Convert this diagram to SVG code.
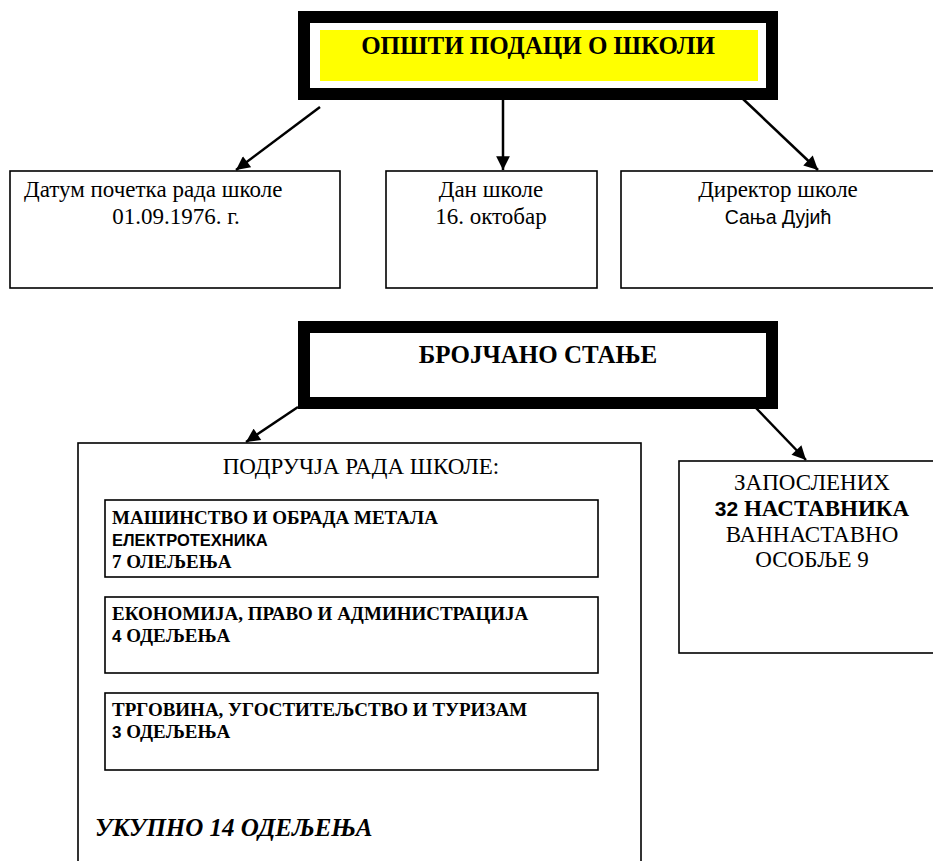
<svg xmlns="http://www.w3.org/2000/svg" width="933" height="861" viewBox="0 0 933 861">
<style>
.box{fill:#fff;stroke:#000;stroke-width:1.6}
.frame{fill:#fff;stroke:#000;stroke-width:12}
.serif{font-family:"Liberation Serif","Times New Roman",serif;fill:#000}
.sans{font-family:"Liberation Sans",Arial,sans-serif;fill:#000}
.b{font-weight:bold}
.conn{stroke:#000;stroke-width:2.5;fill:none;marker-end:url(#ah)}
</style>
<defs>
<marker id="ah" viewBox="0 0 10 10" refX="10" refY="5" markerWidth="6" markerHeight="5.5" orient="auto" markerUnits="strokeWidth">
<path d="M0,0 L10,5 L0,10 Z" fill="#000"/>
</marker>
</defs>
<rect width="933" height="861" fill="#fff"/>

<g id="title1">
<rect class="frame" x="304" y="17" width="468" height="77"/>
<rect x="320" y="30" width="438" height="51" fill="#ffff00"/>
<text class="serif b" x="538" y="54" font-size="25" text-anchor="middle">ОПШТИ ПОДАЦИ О ШКОЛИ</text>
</g>

<g id="datum">
<rect class="box" x="10" y="171" width="330" height="117"/>
<text class="serif" x="24" y="197" font-size="23">Датум почетка рада школе</text>
<text class="serif" x="176" y="224" font-size="23" text-anchor="middle">01.09.1976. г.</text>
</g>

<g id="dan">
<rect class="box" x="386" y="171" width="211" height="117"/>
<text class="serif" x="491" y="197" font-size="23" text-anchor="middle">Дан школе</text>
<text class="serif" x="491" y="224" font-size="23" text-anchor="middle">16. октобар</text>
</g>

<g id="direktor">
<rect class="box" x="621" y="171" width="318" height="117"/>
<text class="serif" x="778" y="197" font-size="23" text-anchor="middle">Директор школе</text>
<text class="sans" x="778" y="224" font-size="19.5" text-anchor="middle">Сања Дујић</text>
</g>

<g id="title2">
<rect class="frame" x="304" y="327" width="468" height="76"/>
<text class="serif b" x="538" y="363" font-size="25" text-anchor="middle">БРОЈЧАНО СТАЊЕ</text>
</g>

<g id="podrucja">
<rect class="box" x="78" y="443" width="563" height="440"/>
<text class="serif" x="361" y="474" font-size="23" text-anchor="middle">ПОДРУЧЈА РАДА ШКОЛЕ:</text>
<text class="serif b" x="95" y="836" font-size="25" font-style="italic">УКУПНО 14 ОДЕЉЕЊА</text>
</g>

<g id="masinstvo">
<rect class="box" x="105" y="500" width="493" height="77"/>
<text class="serif b" x="112" y="524" font-size="19">МАШИНСТВО И ОБРАДА МЕТАЛА</text>
<text class="sans b" x="112" y="546" font-size="16.5">ЕЛЕКТРОТЕХНИКА</text>
<text class="serif b" x="112" y="568" font-size="19">7 ОЛЕЉЕЊА</text>
</g>

<g id="ekonomija">
<rect class="box" x="105" y="597" width="493" height="76"/>
<text class="serif b" x="112" y="620" font-size="19">ЕКОНОМИЈА, ПРАВО И АДМИНИСТРАЦИЈА</text>
<text class="serif b" x="112" y="642" font-size="19"><tspan class="sans" font-size="17">4</tspan> ОДЕЉЕЊА</text>
</g>

<g id="trgovina">
<rect class="box" x="105" y="693" width="493" height="77"/>
<text class="serif b" x="112" y="716" font-size="19">ТРГОВИНА, УГОСТИТЕЉСТВО И ТУРИЗАМ</text>
<text class="serif b" x="112" y="738" font-size="19"><tspan class="sans" font-size="17">3</tspan> ОДЕЉЕЊА</text>
</g>

<g id="zaposlenih">
<rect class="box" x="679" y="461" width="266" height="192"/>
<text class="serif" x="812" y="490" font-size="23" text-anchor="middle">ЗАПОСЛЕНИХ</text>
<text class="serif b" x="812" y="516" font-size="23" text-anchor="middle"><tspan class="sans" font-size="21">32</tspan> НАСТАВНИКА</text>
<text class="serif" x="812" y="542" font-size="23" text-anchor="middle">ВАННАСТАВНО</text>
<text class="serif" x="812" y="567" font-size="23" text-anchor="middle">ОСОБЉЕ 9</text>
</g>

<g id="connectors">
<line class="conn" x1="320" y1="107" x2="236" y2="170"/>
<line class="conn" x1="503" y1="100" x2="503" y2="170"/>
<line class="conn" x1="742" y1="98" x2="818" y2="170"/>
<line class="conn" x1="298" y1="407" x2="246" y2="442"/>
<line class="conn" x1="756" y1="408" x2="806" y2="460"/>
</g>
</svg>
